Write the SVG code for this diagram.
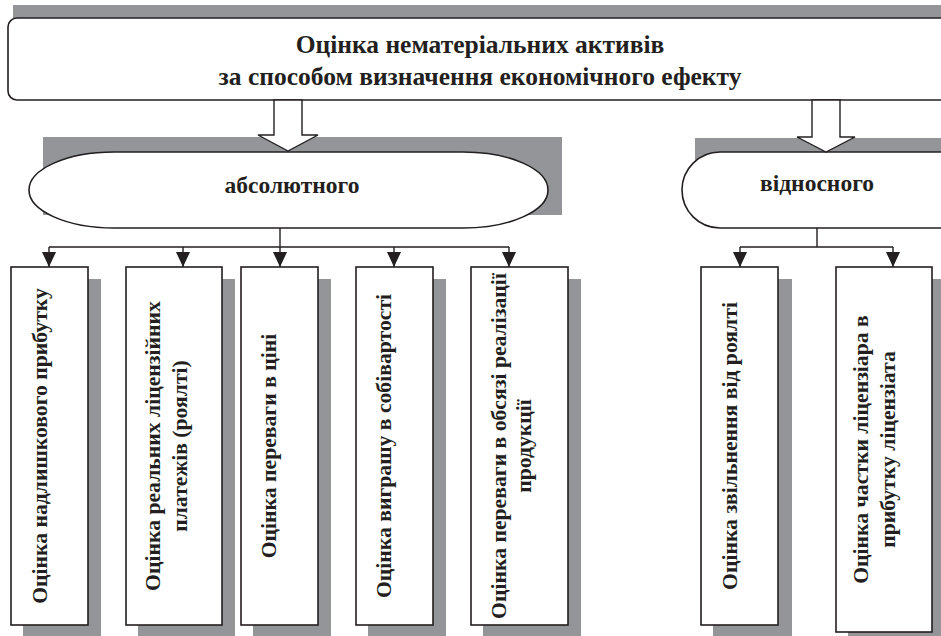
<svg xmlns="http://www.w3.org/2000/svg" width="941" height="636" viewBox="0 0 941 636">
<defs>
<style>
.sh{fill:#939598;stroke:none}
.bx{fill:#fff;stroke:#231f20;stroke-width:1.6}
.ln{fill:none;stroke:#231f20;stroke-width:1.4}
.ha{fill:#fff;stroke:#231f20;stroke-width:1.4;stroke-linejoin:miter}
text{font-family:"Liberation Serif","Times New Roman",serif;font-weight:bold;fill:#231f20}
.t1{font-size:25.5px}
.t2{font-size:23.5px}
.t3{font-size:21.7px}
</style>
<marker id="ar" markerUnits="userSpaceOnUse" markerWidth="16" markerHeight="14" refX="15" refY="7" orient="auto" viewBox="0 0 16 14">
<path d="M0,0 L15,7 L0,14 Z" fill="#231f20"/>
</marker>
</defs>
<rect width="941" height="636" fill="#fff"/>

<g id="title">
<rect class="sh" x="13" y="5" width="940" height="80"/>
<rect class="bx" x="8" y="18" width="960" height="82" rx="9" ry="9"/>
<text class="t1" x="480" y="53" text-anchor="middle">Оцінка нематеріальних активів</text>
<text class="t1" x="480" y="85" text-anchor="middle">за способом визначення економічного ефекту</text>
</g>

<g id="abs">
<rect class="sh" x="43" y="137" width="519" height="78"/>
<rect class="bx" x="29" y="152" width="519" height="76" rx="85" ry="38"/>
<text class="t2" x="292" y="193" text-anchor="middle">абсолютного</text>
</g>

<g id="rel">
<rect class="sh" x="695" y="138" width="300" height="78"/>
<rect class="bx" x="682" y="152" width="320" height="76" rx="38" ry="38"/>
<text class="t2" x="817" y="191" text-anchor="middle">відносного</text>
</g>

<g id="hollow-arrows">
<polygon class="ha" points="274,100 302,100 302,135 318,135 288,151 258,135 274,135"/>
<polygon class="ha" points="812,100 840,100 840,137 855,137 826,152 797,137 812,137"/>
</g>

<g id="connectors">
<path class="ln" d="M280,228 V247 M49,247 H509 M817,228 V247 M740,247 H893"/>
<line class="ln" x1="49" y1="247" x2="49" y2="267" marker-end="url(#ar)"/>
<line class="ln" x1="183" y1="247" x2="183" y2="267" marker-end="url(#ar)"/>
<line class="ln" x1="280" y1="247" x2="280" y2="267" marker-end="url(#ar)"/>
<line class="ln" x1="394" y1="247" x2="394" y2="267" marker-end="url(#ar)"/>
<line class="ln" x1="509" y1="247" x2="509" y2="267" marker-end="url(#ar)"/>
<line class="ln" x1="740" y1="247" x2="740" y2="267" marker-end="url(#ar)"/>
<line class="ln" x1="893" y1="247" x2="893" y2="267" marker-end="url(#ar)"/>
</g>

<g id="b1">
<rect class="sh" x="23" y="279" width="78" height="358"/>
<rect class="bx" x="11" y="267" width="77" height="358"/>
<text class="t3" transform="translate(47,446) rotate(-90)" text-anchor="middle">Оцінка надлишкового прибутку</text>
</g>
<g id="b2">
<rect class="sh" x="138" y="279" width="97" height="358"/>
<rect class="bx" x="126" y="267" width="96" height="358"/>
<text class="t3" transform="translate(160,446) rotate(-90)" text-anchor="middle">Оцінка реальних ліцензійних</text>
<text class="t3" transform="translate(187,446) rotate(-90)" text-anchor="middle">платежів (роялті)</text>
</g>
<g id="b3">
<rect class="sh" x="253" y="279" width="78" height="358"/>
<rect class="bx" x="241" y="267" width="77" height="358"/>
<text class="t3" transform="translate(276,446) rotate(-90)" text-anchor="middle">Оцінка переваги в ціні</text>
</g>
<g id="b4">
<rect class="sh" x="368" y="279" width="78" height="358"/>
<rect class="bx" x="356" y="267" width="77" height="358"/>
<text class="t3" transform="translate(391,446) rotate(-90)" text-anchor="middle">Оцінка виграшу в собівартості</text>
</g>
<g id="b5">
<rect class="sh" x="483" y="279" width="98" height="358"/>
<rect class="bx" x="471" y="267" width="97" height="358"/>
<text class="t3" transform="translate(506,446) rotate(-90)" text-anchor="middle">Оцінка переваги в обсязі реалізації</text>
<text class="t3" transform="translate(531,446) rotate(-90)" text-anchor="middle">продукції</text>
</g>
<g id="b6">
<rect class="sh" x="713" y="279" width="79" height="358"/>
<rect class="bx" x="701" y="267" width="77" height="358"/>
<text class="t3" transform="translate(737,446) rotate(-90)" text-anchor="middle">Оцінка звільнення від роялті</text>
</g>
<g id="b7">
<rect class="sh" x="848" y="279" width="97" height="365"/>
<rect class="bx" x="836" y="267" width="96" height="365"/>
<text class="t3" transform="translate(868,449.5) rotate(-90)" text-anchor="middle">Оцінка частки ліцензіара в</text>
<text class="t3" transform="translate(895,449.5) rotate(-90)" text-anchor="middle">прибутку ліцензіата</text>
</g>
</svg>
